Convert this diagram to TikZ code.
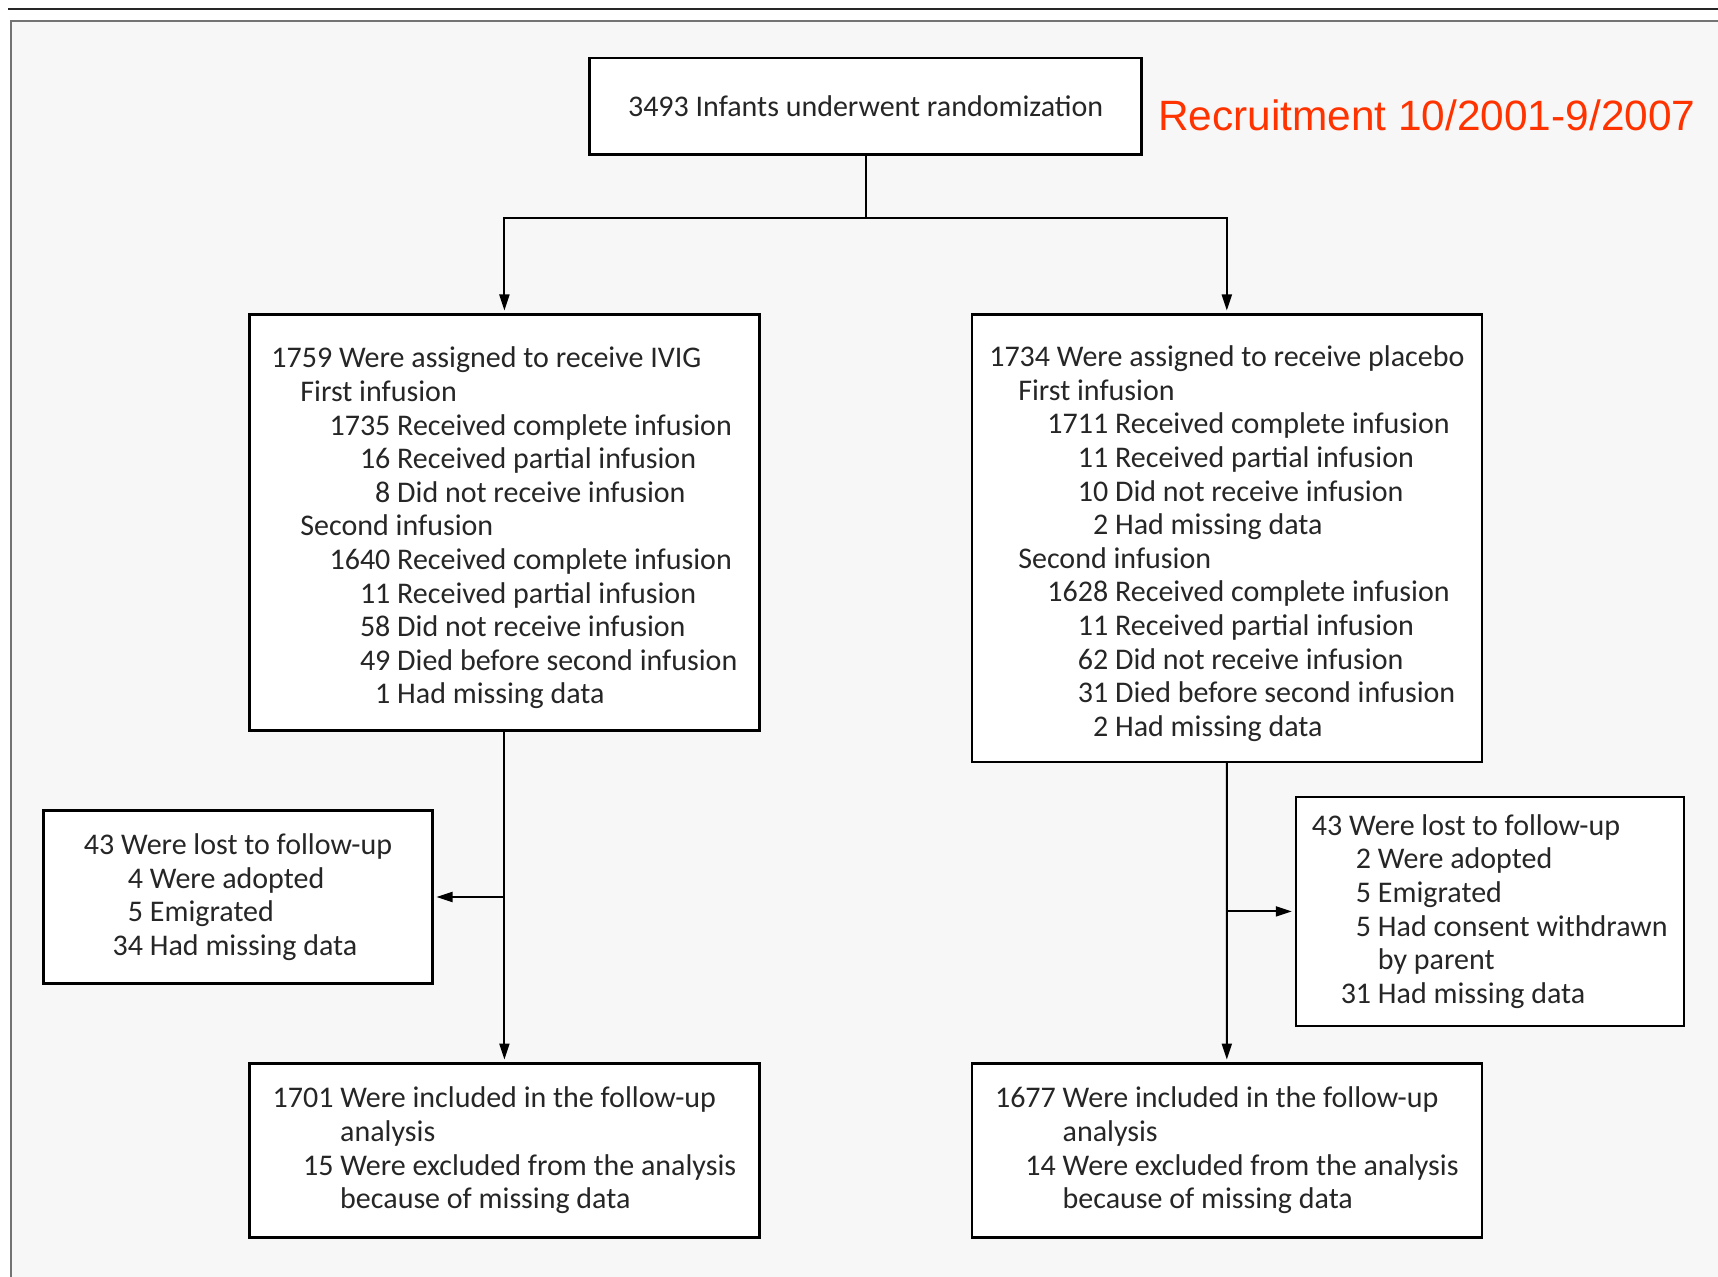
\documentclass[tikz,border=0pt]{standalone}
\usepackage{fontspec}
\setmainfont{Carlito}
\newfontfamily\arialfont{Liberation Sans}
\usetikzlibrary{arrows.meta,positioning}
\definecolor{recruitred}{RGB}{255,51,0}
\definecolor{paper}{RGB}{247,247,247}
\newcommand\cnt[3][59.5pt]{\makebox[#1][r]{#2}\ #3}
\newcommand\cnx[2][59.5pt]{\makebox[#1]{}\ #2}

\begin{document}
\begin{tikzpicture}[
    x=0.5pt, y=-0.5pt,
    block/.style={rectangle, draw=black, line width=1.2pt, fill=white, align=left, inner sep=0pt, outer sep=0pt, text=black!85, font=\fontsize{15}{16.8}\selectfont},
    line/.style={-{Triangle[length=8pt,width=5pt]}, line width=1pt, shorten >=2pt}
]
\useasboundingbox (0,0) rectangle (1718,1277);
\fill[white] (0,0) rectangle (1718,1277);
\fill[paper] (11,21) rectangle (1718,1277);
\draw[black!55, line width=1pt] (11,1277) -- (11,21) -- (1718,21);
\draw[black!85, line width=1.3pt] (8,9) -- (1718,9);

\node[block, minimum width=276pt, minimum height=48.3pt] (rand) at (865.6,106.2) {3493 Infants underwent randomization};
\node[right=8.2pt of rand, yshift=-4.4pt, inner sep=0pt, outer sep=0pt, text=recruitred, font=\arialfont\fontsize{21.2}{25}\selectfont] (recruit) {Recruitment 10/2001-9/2007};
\node[block, below=80pt of rand, xshift=-180.6pt, minimum width=255pt, minimum height=208pt] (ivig) {\rule{0pt}{16pt}1759 Were assigned to receive IVIG\\
  \hspace*{14.5pt}First infusion\\
  \cnt{1735}{Received complete infusion}\\
  \cnt{16}{Received partial infusion}\\
  \cnt{8}{Did not receive infusion}\\
  \hspace*{14.5pt}Second infusion\\
  \cnt{1640}{Received complete infusion}\\
  \cnt{11}{Received partial infusion}\\
  \cnt{58}{Did not receive infusion}\\
  \cnt{49}{Died before second infusion}\\
  \cnt{1}{Had missing data}};
\node[block, below=80pt of rand, xshift=180.6pt, minimum width=255pt, minimum height=223.6pt] (plac) {\rule{0pt}{16pt}1734 Were assigned to receive placebo\\
  \hspace*{14.5pt}First infusion\\
  \cnt{1711}{Received complete infusion}\\
  \cnt{11}{Received partial infusion}\\
  \cnt{10}{Did not receive infusion}\\
  \cnt{2}{Had missing data}\\
  \hspace*{14.5pt}Second infusion\\
  \cnt{1628}{Received complete infusion}\\
  \cnt{11}{Received partial infusion}\\
  \cnt{62}{Did not receive infusion}\\
  \cnt{31}{Died before second infusion}\\
  \cnt{2}{Had missing data}};
\node[block, below=40pt of ivig, xshift=-133.2pt, minimum width=194.5pt, minimum height=86.5pt] (lostivig) {43 Were lost to follow-up\\
  \cnt[29.6pt]{4}{Were adopted}\\
  \cnt[29.6pt]{5}{Emigrated}\\
  \cnt[29.6pt]{34}{Had missing data}};
\node[block, below=17.6pt of plac, xshift=131.5pt, minimum width=194pt, minimum height=114.5pt] (lostplac) {43 Were lost to follow-up\\
  \cnt[29.6pt]{2}{Were adopted}\\
  \cnt[29.6pt]{5}{Emigrated}\\
  \cnt[29.6pt]{5}{Had consent withdrawn}\\
  \cnx[29.6pt]{by parent}\\
  \cnt[29.6pt]{31}{Had missing data}};
\node[block, below=166.5pt of ivig, minimum width=255pt, minimum height=87pt] (fuivig) {1701 Were included in the follow-up\\
  \cnx[30.4pt]{analysis}\\
  \cnt[30.4pt]{15}{Were excluded from the analysis}\\
  \cnx[30.4pt]{because of missing data}};
\node[block, right=106.2pt of fuivig, minimum width=255pt, minimum height=87pt] (fuplac) {1677 Were included in the follow-up\\
  \cnx[30.4pt]{analysis}\\
  \cnt[30.4pt]{14}{Were excluded from the analysis}\\
  \cnx[30.4pt]{because of missing data}};

\draw[line] (rand.south) -- ++(0,-31.8pt) -| (ivig.north);
\draw[line] (rand.south) -- ++(0,-31.8pt) -| (plac.north);
\draw[line] (ivig.south) -- (fuivig.north);
\draw[line] (ivig.south |- lostivig.east) -- (lostivig.east);
\draw[line] (plac.south) -- (fuplac.north);
\draw[line] (plac.south |- lostplac.west) -- (lostplac.west);
\end{tikzpicture}
\end{document}
